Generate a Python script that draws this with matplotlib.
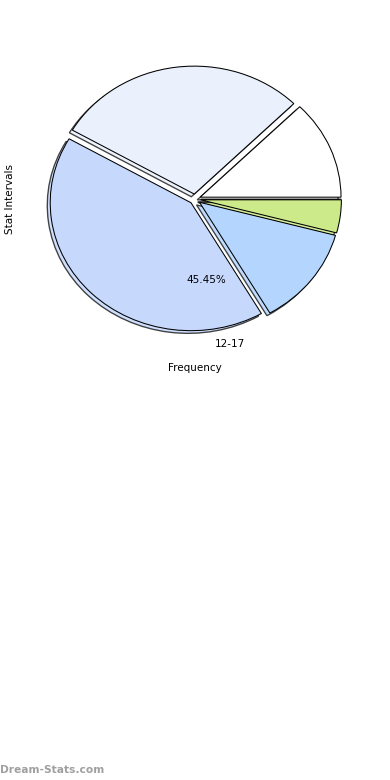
import matplotlib
matplotlib.use('Agg')
import matplotlib.pyplot as plt
import numpy as np

# Frequency of each stat interval, drawn counter-clockwise from 0 degrees
frequencies = [3, 7, 10, 3, 1, 0]
slice_colors = ['#ffffff', '#eaf1fd', '#c6d9fd', '#b4d5fe', '#cdea8b', '#3a3a3a']
shown_label = '12-17'
shown_pct = '45.45%'
LABEL_ANGLE = 277  # direction (degrees) where the visible label sits
EXPLODE = 0.04

fig = plt.figure(figsize=(5.2, 10.4), dpi=75)
ax = fig.add_axes([0.0487, 0.5397, 0.9026, 0.410])

# shadow keeps the slice colour, with an outlined edge
ax.pie(frequencies, colors=slice_colors, explode=[EXPLODE] * len(frequencies),
       shadow={'shade': 0.0, 'edgecolor': '#222222', 'alpha': 0.85,
               'linewidth': 1.3},
       startangle=0, counterclock=True,
       wedgeprops={'edgecolor': 'black', 'linewidth': 1})
ax.set_aspect('auto')

# Label and percentage placed at the standard pie distances (1.1 and 0.6)
a = np.deg2rad(LABEL_ANGLE)
ox, oy = EXPLODE * np.cos(a), EXPLODE * np.sin(a)
ax.text(ox + 1.1 * np.cos(a), oy + 1.1 * np.sin(a), shown_label,
        ha='left', va='center', fontsize=10)
ax.text(ox + 0.6 * np.cos(a), oy + 0.6 * np.sin(a), shown_pct,
        ha='center', va='center', fontsize=10)

ax.set_xlabel('Frequency', fontsize=10)
ax.set_ylabel('Stat Intervals', fontsize=10)

fig.text(0.0, 10 / 780, 'Dream-Stats.com', color='#a0a0a0', fontsize=10.2,
         fontweight='bold', ha='left', va='center')

fig.savefig('out.png', dpi=75)
